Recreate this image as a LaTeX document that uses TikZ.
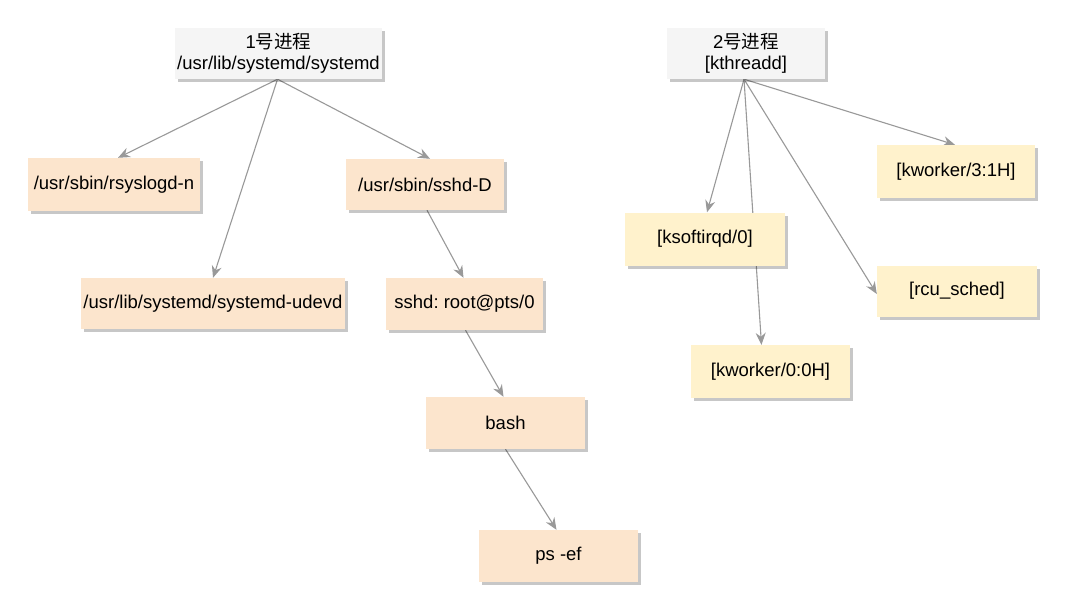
\documentclass[tikz,border=0pt]{standalone}
\usepackage{fontspec}
\setmainfont{Liberation Sans}
\newfontfamily\cjk{Noto Sans CJK SC}
\usetikzlibrary{arrows.meta,shadows,backgrounds}
\frenchspacing
\definecolor{peach}{HTML}{FCE5CD}
\definecolor{lightyellow}{HTML}{FFF2CC}
\definecolor{hdrgray}{HTML}{F5F5F5}
\definecolor{edgegray}{HTML}{999999}
\tikzset{
  boxbase/.style={inner sep=0pt, align=center, font=\fontsize{18.5}{21}\selectfont,
    drop shadow={shadow xshift=3pt, shadow yshift=-3pt, fill=black, opacity=0.22}},
  hdrbox/.style={boxbase, fill=hdrgray},
  orangebox/.style={boxbase, fill=peach},
  yellowbox/.style={boxbase, fill=lightyellow},
  conn/.style={draw=edgegray, line width=1.1pt,
    -{Stealth[length=12pt, width=10pt, inset=4pt]}}
}
\begin{document}
\begin{tikzpicture}[x=1pt,y=-1pt]
\useasboundingbox (0,0) rectangle (1076,606);
% left tree
\node[hdrbox, minimum width=207pt, minimum height=51pt] (hdr1) at (278.5,53.5)
  {1{\cjk 号进程}\\/usr/lib/systemd/systemd};
\node[orangebox, minimum width=172pt, minimum height=53pt] (rsys) at (114,184.5) {/usr/sbin/rsyslogd-n};
\node[orangebox, minimum width=264pt, minimum height=51pt] (udevd) at (213,303.5) {/usr/lib/systemd/systemd-udevd};
\node[orangebox, minimum width=158pt, minimum height=51pt] (sshdD) at (425,184.5) {/usr/sbin/sshd-D};
\node[orangebox, minimum width=157pt, minimum height=52pt] (sshdr) at (464.5,304) {sshd: root@pts/0};
\node[orangebox, minimum width=159pt, minimum height=52pt] (bash) at (505.5,423) {bash};
\node[orangebox, minimum width=159pt, minimum height=52pt] (psef) at (558.5,556) {ps -ef};
% right tree
\node[hdrbox, minimum width=158pt, minimum height=51pt] (hdr2) at (746,53.5)
  {2{\cjk 号进程}\\{[kthreadd]}};
\node[yellowbox, minimum width=158pt, minimum height=53pt] (kw3) at (956,171.5) {[kworker/3:1H]};
\node[yellowbox, minimum width=160pt, minimum height=53pt] (ksoft) at (705,239) {[ksoftirqd/0]};
\node[yellowbox, minimum width=160pt, minimum height=51pt] (rcu) at (957,291) {[rcu\_sched]};
\node[yellowbox, minimum width=159pt, minimum height=53pt] (kw0) at (770.5,371.5) {[kworker/0:0H]};
\begin{scope}[on background layer]
\fill[white] (0,0) rectangle (1076,606);
\draw[conn] ([xshift=-1pt]hdr1.south) -- ([xshift=4pt]rsys.north);
\draw[conn] ([xshift=-1pt]hdr1.south) -- (udevd.north);
\draw[conn] ([xshift=-1pt]hdr1.south) -- ([xshift=5pt]sshdD.north);
\draw[conn] ([xshift=2pt]sshdD.south) -- ([xshift=-1pt]sshdr.north);
\draw[conn] ([xshift=1pt]sshdr.south) -- ([xshift=-2pt]bash.north);
\draw[conn] (bash.south) -- ([xshift=-2pt]psef.north);
\draw[conn] ([xshift=-2pt]hdr2.south) -- ([xshift=2pt]ksoft.north);
\draw[conn] ([xshift=-2pt]hdr2.south) -- ([xshift=-9pt]kw0.north);
\draw[conn] ([xshift=-2pt]hdr2.south) -- ([yshift=-3pt]rcu.west);
\draw[conn] ([xshift=-2pt]hdr2.south) -- ([xshift=-1pt]kw3.north);
\end{scope}
\end{tikzpicture}
\end{document}
